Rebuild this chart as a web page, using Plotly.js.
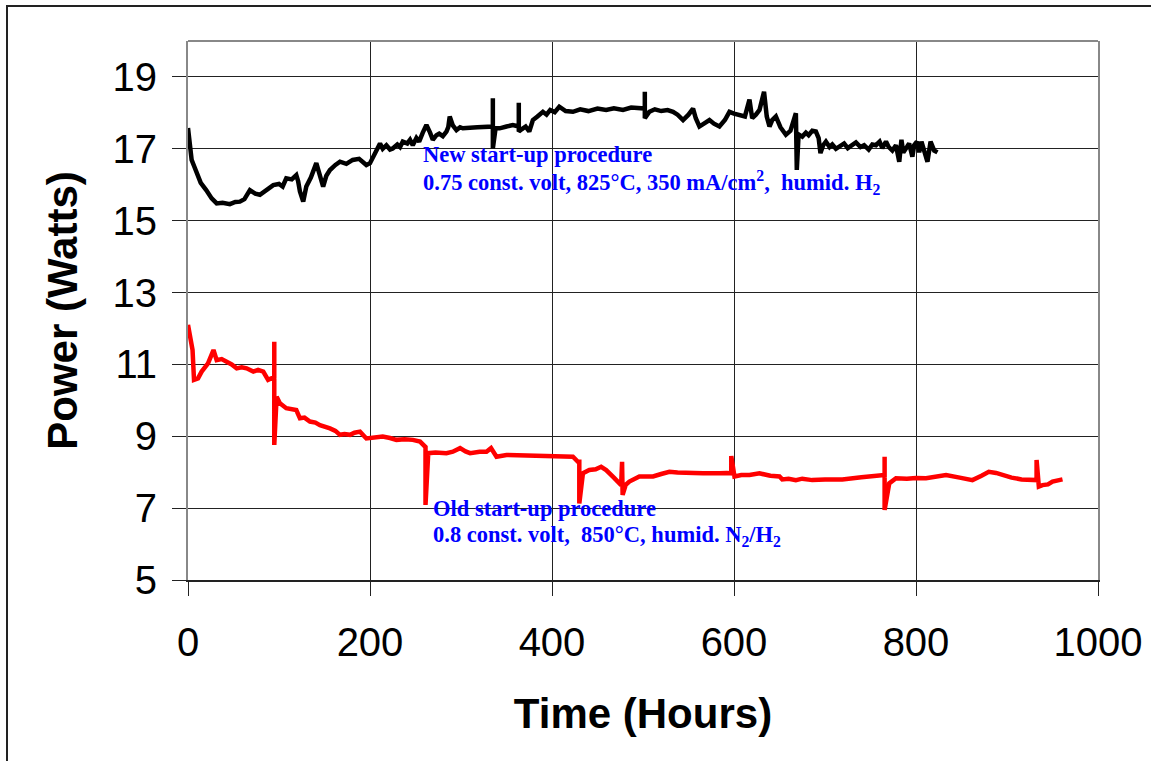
<!DOCTYPE html>
<html>
<head>
<meta charset="utf-8">
<script src="https://cdn.plot.ly/plotly-3.0.1.min.js"></script>
<style>
html,body{margin:0;padding:0;background:#fff;}
#wrap{position:relative;width:1151px;height:761px;overflow:hidden;}
#chart{position:absolute;left:0;top:0;width:1151px;height:761px;}
#frame{position:absolute;left:6px;top:5px;width:1200px;height:800px;border-top:2px solid #222;border-left:2px solid #222;pointer-events:none;}
</style>
</head>
<body>
<div id="wrap"><div id="chart"></div><div id="frame"></div></div>
<script>
// New start-up procedure (black)
const newHours = [0,2,4,7,9.5,14,20,26,31.5,38,46,52,57,62,68,74,79,86,93.7,100,104,108,114,119,121,123,126.6,130,135,141,144,148.5,152,156,162,167,174,181,188,196,200,203,207,211,214,218,222,225,230,233,236,241,244,247,251,254,258,262,266,269,273,276,280,284,286,287.6,291,295,299,302,318,333,335,335,335,338,342.5,350,357,363.5,363.5,363.5,367,371,375,377,379,384,390,394,398,403,408,415,423,431,440,450,459.5,468,478,487,496,502,502,502,507,513,520,527,533,538,544,550,555,558,562,568,573,578,584,590,595,600,606,612,617,620,624,628,633,636,639,642,646,651,657,662,668,669,671,675,679,682,686,690,693,695,698,701,705,708,712,716,721,725,730,734,739,743,748,752,756,760,763,767,770,774,778,781.6,784,786,790,792.5,796,798,801,803.5,806,809,812.6,816,820,823.6];
const newPower = [17.58,17.2,16.69,16.5,16.32,16.05,15.85,15.62,15.48,15.5,15.46,15.52,15.53,15.6,15.85,15.75,15.72,15.85,15.99,16.02,15.95,16.18,16.15,16.27,16.1,15.81,15.53,15.95,16.2,16.6,16.3,15.95,16.25,16.41,16.55,16.64,16.58,16.69,16.72,16.55,16.6,16.74,16.95,17.15,17.0,17.1,16.98,17.01,17.12,17.05,17.2,17.15,17.25,17.1,17.3,17.2,17.45,17.66,17.45,17.25,17.38,17.42,17.35,17.48,17.6,17.9,17.65,17.52,17.6,17.57,17.6,17.62,17.62,18.41,17.01,17.57,17.57,17.62,17.66,17.62,18.28,17.48,17.55,17.62,17.48,17.6,17.8,17.9,18.03,17.95,18.08,18.02,18.17,18.05,18.03,18.1,18.05,18.12,18.08,18.13,18.08,18.15,18.12,18.12,18.59,17.85,18.03,18.1,18.05,18.08,18.03,17.95,17.8,17.95,18.12,17.85,17.62,17.7,17.8,17.7,17.62,17.8,18.03,17.98,17.94,17.9,18.37,17.85,17.95,18.08,18.59,17.9,17.62,17.8,17.9,17.6,17.39,17.5,17.99,16.41,17.4,17.34,17.45,17.38,17.5,17.48,17.3,16.88,17.1,17.2,17.05,17.12,17.0,17.06,17.15,17.02,17.1,17.18,17.05,17.1,16.98,17.12,17.1,17.2,17.02,17.2,17.05,16.95,17.1,16.64,17.25,16.9,17.05,17.15,16.78,17.1,17.2,16.9,17.2,16.95,16.64,17.2,16.95,16.9,16.78];

// Old start-up procedure (red)
const oldHours = [0,2,5,6.6,11,15,22,28,31.5,37,42.5,48,53.5,59,64.4,71.7,77,82.7,88,94.8,94.8,94.8,97.4,101,108,113,119,123,128,134,140,145,150,156,162,167,172,178,183,189,196,205,214,222,229,238,247,255,259,261,261,264,272,284,291,299,305,310,320.5,328,333,339,350,360,375,388,401,412,423,428.5,430,430,434,441,448,454,459.5,468,476,477,477.6,481,485,496,511,520,529,538,547,556,566,575,584,592,597,597,600.5,608,617,628,640,650,653,660,668,675,686,700,719,740,760,765.5,765.5,765.5,770.6,778,790,800,811,822,833,848,862,872,880,888,895,905,916,929,932.5,932.5,935,939,945,950,955,961];
const oldPower = [12.10,11.77,11.40,10.57,10.61,10.80,11.03,11.40,11.12,11.15,11.08,11.0,10.89,10.92,10.89,10.80,10.85,10.80,10.57,10.65,11.63,8.76,10.10,9.92,9.78,9.75,9.73,9.50,9.52,9.41,9.38,9.31,9.28,9.22,9.15,9.04,9.06,9.04,9.10,9.13,8.94,8.97,8.99,8.95,8.90,8.92,8.90,8.85,8.75,8.70,7.09,8.53,8.55,8.53,8.57,8.67,8.58,8.53,8.57,8.57,8.67,8.43,8.48,8.47,8.48,8.46,8.45,8.44,8.43,8.29,8.29,7.13,7.97,8.06,8.08,8.15,8.06,7.85,7.64,8.29,7.37,7.65,7.74,7.88,7.88,7.95,8.01,7.99,7.97,7.98,7.97,7.96,7.97,7.98,7.97,8.45,7.88,7.92,7.92,7.97,7.90,7.88,7.80,7.82,7.78,7.82,7.78,7.80,7.80,7.86,7.92,7.92,8.43,6.95,7.69,7.83,7.82,7.84,7.83,7.86,7.92,7.85,7.78,7.90,8.01,7.98,7.92,7.85,7.80,7.78,7.78,8.34,7.60,7.64,7.66,7.74,7.76,7.80];

const xTicks = [0,200,400,600,800,1000];
const yTicks = [5,7,9,11,13,15,17,19];

const traces = [
  {x: oldHours, y: oldPower, mode: 'lines', line: {color: '#ff0000', width: 4.5}, hoverinfo: 'skip'},
  {x: newHours, y: newPower, mode: 'lines', line: {color: '#000000', width: 4.5}, hoverinfo: 'skip'}
];

const annFont = {family: 'Liberation Serif, Times New Roman, serif', size: 22.5, color: '#0000ff', weight: 'bold'};
const layout = {
  width: 1151, height: 761,
  margin: {l: 188, r: 53, t: 41, b: 181, pad: 0},
  paper_bgcolor: '#ffffff', plot_bgcolor: '#ffffff',
  showlegend: false,
  font: {family: 'Liberation Sans, Arial, sans-serif', color: '#000'},
  xaxis: {
    range: [0, 1000], tickvals: xTicks, ticktext: xTicks.map(String),
    showgrid: true, gridcolor: '#222', gridwidth: 1,
    showline: true, linecolor: '#222', linewidth: 2, mirror: false,
    ticks: 'outside', ticklen: 14, tickcolor: '#222', tickwidth: 1,
    tickfont: {size: 40, family: 'Liberation Sans, Arial, sans-serif'},
    ticklabelstandoff: 12,
    zeroline: false,
    title: {text: '<b>Time (Hours)</b>', font: {size: 42, family: 'Liberation Sans, Arial, sans-serif'}, standoff: 36}
  },
  yaxis: {
    range: [5, 20], tickvals: yTicks, ticktext: yTicks.map(String),
    showgrid: true, gridcolor: '#222', gridwidth: 1,
    showline: true, linecolor: '#888', linewidth: 2, mirror: true,
    ticks: 'outside', ticklen: 14, tickcolor: '#222', tickwidth: 1,
    tickfont: {size: 40, family: 'Liberation Sans, Arial, sans-serif'},
    ticklabelstandoff: 7,
    zeroline: false,
    title: {text: '<b>Power (Watts)</b>', font: {size: 42, family: 'Liberation Sans, Arial, sans-serif'}, standoff: 22}
  },
  shapes: [
    {type: 'line', xref: 'paper', yref: 'paper', x0: 0, x1: 1, y0: 1, y1: 1, line: {color: '#888', width: 2}}
  ],
  annotations: [
    {x: 256, y: 16.83, xref: 'x', yref: 'y', xanchor: 'left', yanchor: 'middle', showarrow: false, align: 'left',
     text: '<b>New start-up procedure</b>', font: annFont},
    {x: 256, y: 16.05, xref: 'x', yref: 'y', xanchor: 'left', yanchor: 'middle', showarrow: false, align: 'left',
     text: '<b>0.75 const. volt, 825°C, 350 mA/cm<sup>2</sup>,&nbsp; humid. H<sub>2</sub></b>', font: annFont},
    {x: 267, y: 7.0, xref: 'x', yref: 'y', xanchor: 'left', yanchor: 'middle', showarrow: false, align: 'left',
     text: '<b>Old start-up procedure</b>', font: annFont},
    {x: 267, y: 6.22, xref: 'x', yref: 'y', xanchor: 'left', yanchor: 'middle', showarrow: false, align: 'left',
     text: '<b>0.8 const. volt,&nbsp; 850°C, humid. N<sub>2</sub>/H<sub>2</sub></b>', font: annFont}
  ]
};

Plotly.newPlot('chart', traces, layout, {staticPlot: true, displayModeBar: false});
</script>
</body>
</html>
